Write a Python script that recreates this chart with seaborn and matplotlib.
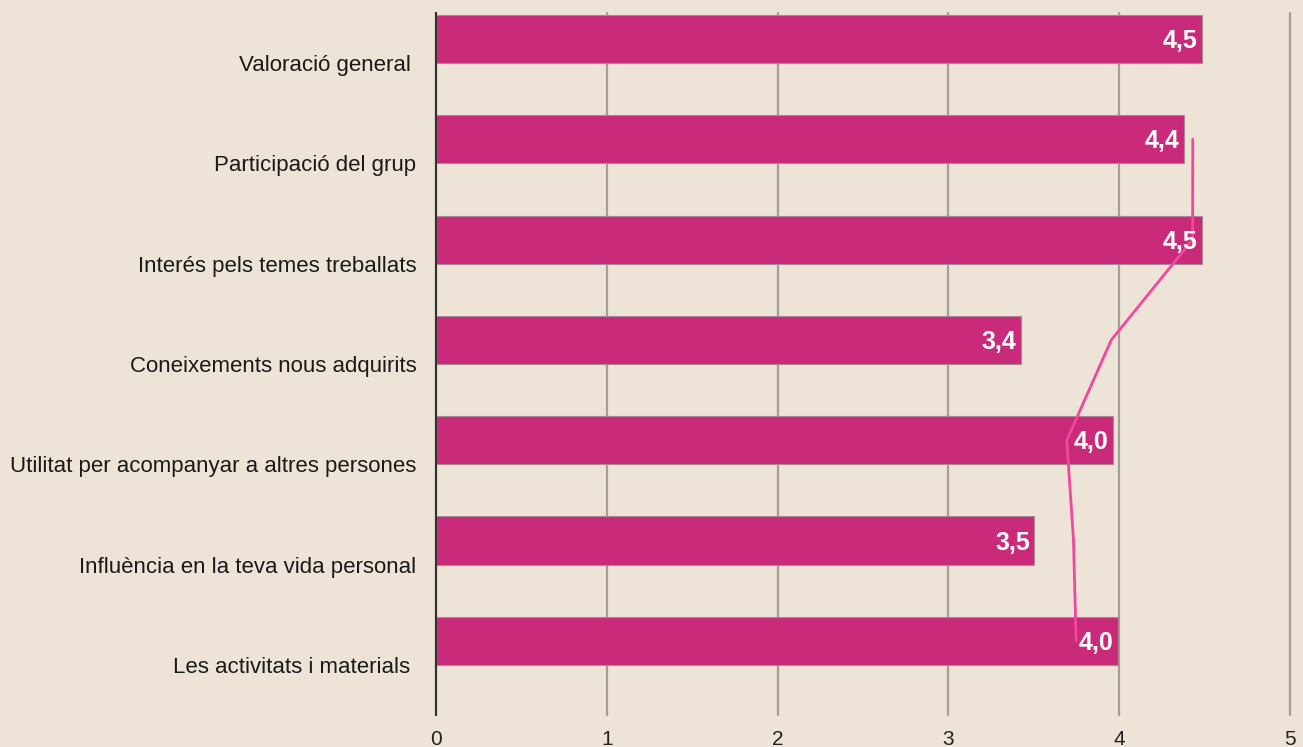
import numpy as np
import pandas as pd
import matplotlib.pyplot as plt
import seaborn as sns

# Survey scores (0-5) per item
categories = [
    "Valoració general ",
    "Participació del grup",
    "Interés pels temes treballats",
    "Coneixements nous adquirits",
    "Utilitat per acompanyar a altres persones",
    "Influència en la teva vida personal",
    "Les activitats i materials ",
]
scores = [4.485, 4.377, 4.483, 3.425, 3.962, 3.503, 3.993]
x_ticks = [0, 1, 2, 3, 4, 5]

bg = "#EDE4D7"
bar_color = "#C92A7A"
line_color = "#F2479A"

sns.set_theme(style="white")
plt.rcParams["font.family"] = ["Liberation Sans", "DejaVu Sans"]

# bars sit in the upper half of each category band
offset = -0.24
df = pd.DataFrame({"item": categories, "score": scores})
df["pos"] = np.arange(len(df)) + offset

fig = plt.figure(figsize=(13.03, 7.47), dpi=100, facecolor=bg)
ax = fig.add_axes([0.3346, 0.0428, 0.6554, 0.9398])
ax.set_facecolor(bg)

sns.barplot(
    data=df, x="score", y="pos", orient="h", native_scale=True,
    width=0.48, color=bar_color, saturation=1,
    edgecolor="#a98a93", linewidth=0.8, ax=ax, zorder=2,
)

# value labels inside the bars
for v, p in zip(df["score"], df["pos"]):
    ax.text(v - 0.025, p + 0.02, f"{v:.1f}".replace(".", ","),
            ha="right", va="center", color="white", fontsize=18,
            fontweight="bold", zorder=4)

# 2-period moving average trendline
df["trend"] = df["score"].rolling(2).mean()
sns.lineplot(data=df.iloc[1:], x="trend", y="pos", sort=False, orient="y",
             color=line_color, linewidth=2, ax=ax, zorder=3)

ax.set_xlim(0, 5)
ax.set_ylim(len(categories) - 0.5, -0.5)
ax.set_xticks(x_ticks)
ax.set_xticklabels([str(t) for t in x_ticks], fontsize=15, color="#222222")
ax.set_yticks(range(len(categories)))
ax.set_yticklabels(categories, fontsize=16, color="#1a1a1a")
ax.tick_params(axis="y", length=0, pad=14)
ax.tick_params(axis="x", length=0, pad=11)
ax.set_xlabel("")
ax.set_ylabel("")

ax.grid(axis="x", color="#a39e97", linewidth=1.6, zorder=0)
ax.set_axisbelow(True)
for gl in ax.get_xgridlines():
    gl.set_clip_on(False)
for s in ["top", "right", "bottom"]:
    ax.spines[s].set_visible(False)
ax.spines["left"].set_color("#333333")
ax.spines["left"].set_linewidth(1.5)
ax.spines["left"].set_zorder(5)

fig.savefig("out.png", dpi=100, facecolor=bg)
